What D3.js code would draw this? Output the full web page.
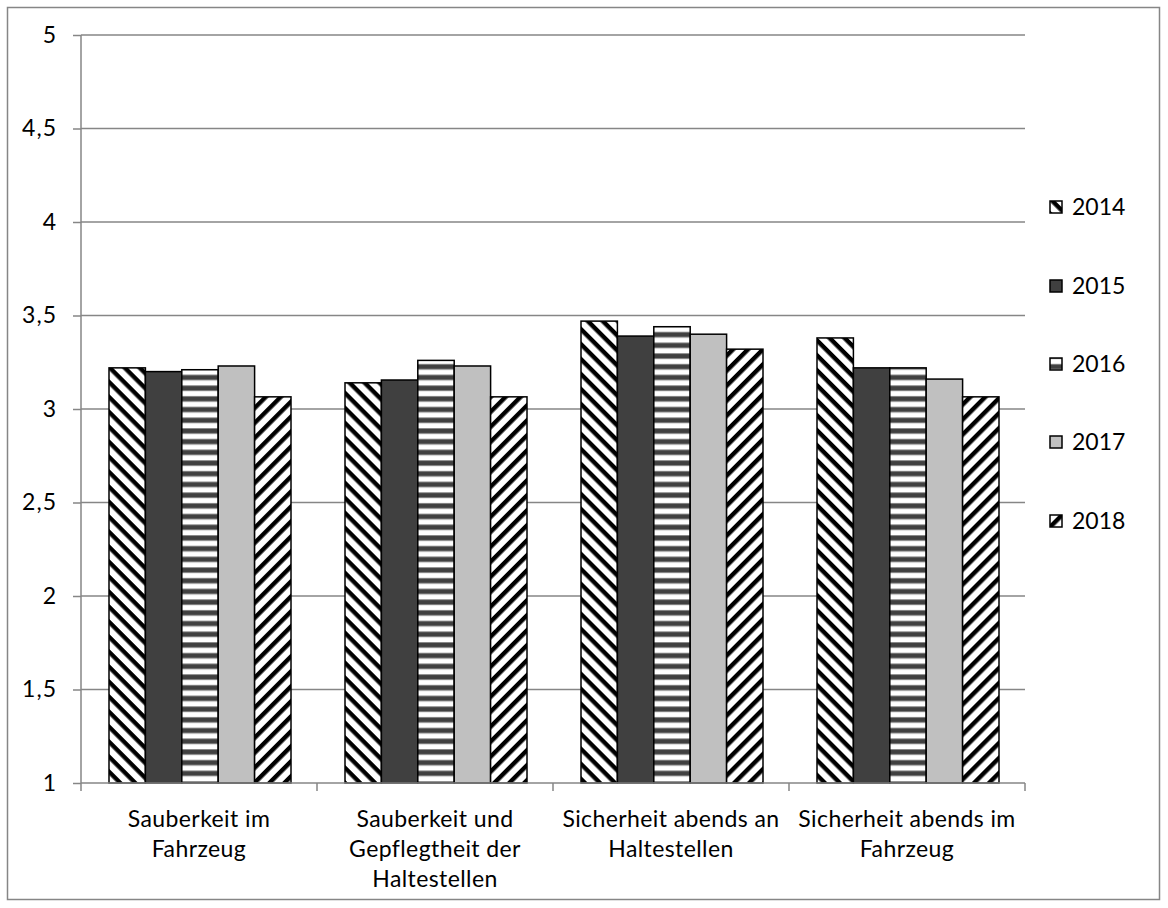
<!DOCTYPE html>
<html><head><meta charset="utf-8">
<script src="https://cdn.jsdelivr.net/npm/d3@7"></script>
<style>body{margin:0;background:#fff}svg{display:block}text{font-family:Lato,"Open Sans",sans-serif;fill:#000}</style>
</head><body><svg id="c" width="1168" height="908"></svg>
<script>
const categories = [
  ["Sauberkeit im","Fahrzeug"],
  ["Sauberkeit und","Gepflegtheit der","Haltestellen"],
  ["Sicherheit abends an","Haltestellen"],
  ["Sicherheit abends im","Fahrzeug"]
];
const years = ["2014","2015","2016","2017","2018"];
const v2014 = [3.22, 3.14, 3.47, 3.38];
const v2015 = [3.20, 3.155, 3.39, 3.22];
const v2016 = [3.21, 3.26, 3.44, 3.22];
const v2017 = [3.23, 3.23, 3.40, 3.16];
const v2018 = [3.065, 3.065, 3.32, 3.065];
const yTicks = [1,1.5,2,2.5,3,3.5,4,4.5,5];
const yTickLabels = ["1","1,5","2","2,5","3","3,5","4","4,5","5"];
const series = [v2014,v2015,v2016,v2017,v2018];

const svg = d3.select("#c");
const L = 81, R = 1025, T = 35, B = 783;
const FS = "23px";

const defs = svg.append("defs");
function diag(id, angle){
  const p = defs.append("pattern").attr("id",id).attr("patternUnits","userSpaceOnUse")
    .attr("width",10.6).attr("height",10.6).attr("patternTransform",`rotate(${angle})`);
  p.append("rect").attr("width",10.6).attr("height",10.6).attr("fill","#fff");
  p.append("rect").attr("y",0).attr("width",10.6).attr("height",4.4).attr("fill","#000");
}
diag("p2014",45); diag("p2018",-45);
const h = defs.append("pattern").attr("id","p2016").attr("patternUnits","userSpaceOnUse")
  .attr("width",10).attr("height",10.7);
h.append("rect").attr("width",10).attr("height",10.7).attr("fill","#fff");
h.append("rect").attr("y",0).attr("width",10).attr("height",6).attr("fill","#8a8a8a");
h.append("rect").attr("y",1).attr("width",10).attr("height",4).attr("fill","#404040");
const fills = ["url(#p2014)","#404040","url(#p2016)","#c0c0c0","url(#p2018)"];

// outer border
svg.append("rect").attr("x",7.5).attr("y",7.5).attr("width",1152).attr("height",892)
  .attr("fill","none").attr("stroke","#868686").attr("stroke-width",1.5);

const y = d3.scaleLinear().domain([1,5]).range([B,T]);
const x0 = d3.scaleBand().domain(d3.range(categories.length)).range([L,R]);
const x1 = d3.scaleBand().domain(d3.range(years.length)).range([28, x0.bandwidth()-26]);

// gridlines
svg.append("g").selectAll("line").data(yTicks.slice(1)).join("line")
  .attr("x1",L).attr("x2",R).attr("y1",d=>y(d)).attr("y2",d=>y(d))
  .attr("stroke","#868686").attr("stroke-width",1.5);

// y axis
const ya = svg.append("g").attr("transform",`translate(${L},0)`)
  .call(d3.axisLeft(y).tickValues(yTicks).tickFormat((d,i)=>yTickLabels[i]).tickSize(8).tickPadding(16));
ya.select(".domain").attr("stroke","#868686").attr("stroke-width",1.5).attr("d",`M0,${T}V${B}`);
ya.selectAll(".tick line").attr("stroke","#868686").attr("stroke-width",1.5);
ya.selectAll(".tick text").style("font-size",FS).style("font-family","Lato").style("letter-spacing","1px");

// bars
const g = svg.append("g");
categories.forEach((c,ci)=>{
  series.forEach((s,si)=>{
    g.append("rect").attr("x",x0(ci)+x1(si)).attr("width",x1.bandwidth())
      .attr("y",y(s[ci])).attr("height",B-y(s[ci]))
      .attr("fill",fills[si]).attr("stroke","#000").attr("stroke-width",1.5);
  });
});

// x axis
const xa = svg.append("g").attr("transform",`translate(0,${B})`);
xa.append("line").attr("x1",L).attr("x2",R).attr("stroke","#868686").attr("stroke-width",1.5);
xa.selectAll("line.t").data(d3.range(categories.length+1)).join("line").attr("class","t")
  .attr("x1",i=>L+i*x0.bandwidth()).attr("x2",i=>L+i*x0.bandwidth()).attr("y1",0).attr("y2",8)
  .attr("stroke","#868686").attr("stroke-width",1.5);
categories.forEach((c,ci)=>{
  const t = xa.append("text").attr("text-anchor","middle").style("font-size",FS)
    .style("letter-spacing","0.4px").attr("x",x0(ci)+x0.bandwidth()/2);
  c.forEach((line,li)=>t.append("tspan").attr("x",x0(ci)+x0.bandwidth()/2).attr("y",44+li*30).text(line));
});

// legend
const legY = [207,286,364,442,521];
years.forEach((yr,i)=>{
  svg.append("rect").attr("x",1050).attr("y",legY[i]-6).attr("width",12).attr("height",12)
    .attr("fill",fills[i]).attr("stroke","#000").attr("stroke-width",1.5);
  svg.append("text").attr("x",1072).attr("y",legY[i]).attr("dy","0.36em")
    .style("font-size",FS).text(yr);
});
</script></body></html>
